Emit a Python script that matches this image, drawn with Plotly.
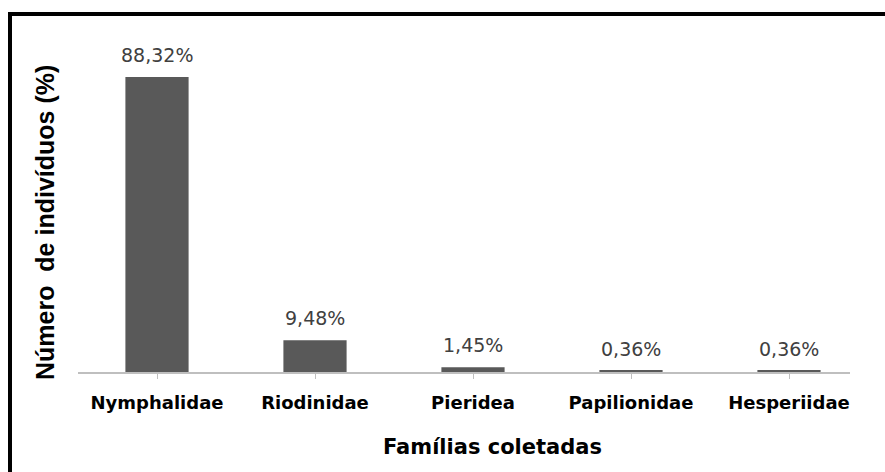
import plotly.graph_objects as go

familias = ["Nymphalidae", "Riodinidae", "Pieridea", "Papilionidae", "Hesperiidae"]
percentuais = [88.32, 9.48, 1.45, 0.36, 0.36]
rotulos = ["88,32%", "9,48%", "1,45%", "0,36%", "0,36%"]

W, H = 885, 472
ML, MR, MT, MB = 78, 35, 38, 100
PW = W - ML - MR
PH = H - MT - MB

def px_x(px):
    return (px - ML) / PW

def px_y(py):
    return (H - MB - py) / PH

fig = go.Figure()
fig.add_trace(go.Bar(
    x=list(range(len(familias))),
    y=percentuais,
    marker=dict(color="#595959", line=dict(width=0)),
    width=0.4,
    hoverinfo="skip",
))

for i, (v, t) in enumerate(zip(percentuais, rotulos)):
    fig.add_annotation(
        x=i, y=v, text=t, showarrow=False,
        yanchor="bottom", yshift=9,
        font=dict(family="DejaVu Sans", size=19, color="#404040"),
    )

fig.add_annotation(
    xref="paper", yref="paper", x=px_x(492), y=px_y(447),
    text="<b>Famílias coletadas</b>", showarrow=False,
    xanchor="center", yanchor="middle",
    font=dict(family="DejaVu Sans", size=21, color="#000000"),
)
fig.add_annotation(
    xref="paper", yref="paper", x=px_x(45), y=px_y(223),
    text="<b>Número  de indivíduos (%)</b>", showarrow=False, textangle=-90,
    xanchor="center", yanchor="middle",
    font=dict(family="Liberation Sans", size=25, color="#000000"),
)

# outer frame (cropped on right and bottom)
fig.add_shape(
    type="rect", xref="paper", yref="paper",
    x0=px_x(10), x1=px_x(W + 20), y0=px_y(H + 20), y1=px_y(14),
    line=dict(color="#000000", width=4), fillcolor="rgba(0,0,0,0)",
    layer="above",
)

fig.update_xaxes(
    range=[-0.5, -0.5 + PW / 158.0],
    tickmode="array",
    tickvals=list(range(len(familias))),
    ticktext=[f"<b>{f}</b>" for f in familias],
    tickson="boundaries",
    ticks="outside", ticklen=5, tickcolor="#bfbfbf", tickwidth=1,
    showline=True, linecolor="#bfbfbf", linewidth=1.5,
    showgrid=False, zeroline=False,
    tickfont=dict(family="DejaVu Sans", size=18, color="#000000"),
    ticklabelstandoff=9,
)
fig.update_yaxes(
    range=[0, 100], visible=False, showgrid=False, zeroline=False,
)

fig.update_layout(
    width=W, height=H,
    margin=dict(l=ML, r=MR, t=MT, b=MB, autoexpand=False),
    paper_bgcolor="#ffffff", plot_bgcolor="#ffffff",
    showlegend=False,
    bargap=0.6,
)

fig.write_html(
    "out.html",
    config={"displayModeBar": False},
    post_script="document.body.style.margin='0px';document.body.style.overflow='hidden';",
)
